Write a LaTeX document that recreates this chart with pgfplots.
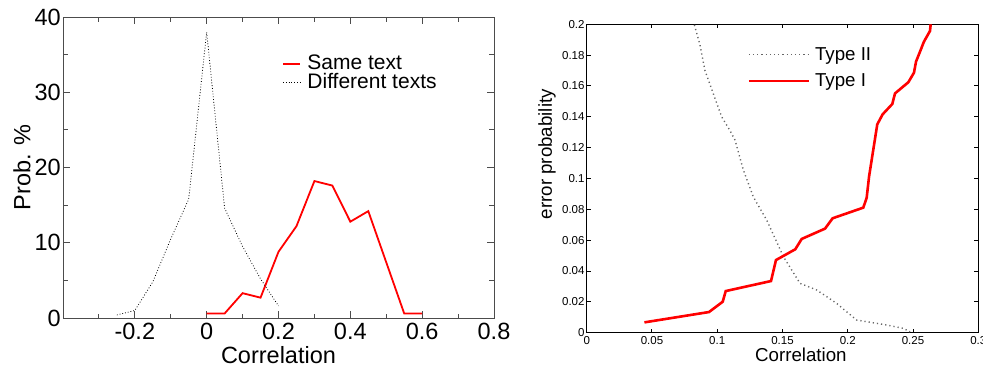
\documentclass[border=0pt]{standalone}
\usepackage{pgfplots}
\pgfplotsset{compat=1.18}
\usepackage{fontspec}
\setmainfont{Liberation Sans}
\begin{document}
\begin{tikzpicture}[x=1pt,y=1pt]
\path[use as bounding box] (0,0) rectangle (983,367);
\begin{axis}[
  at={(63pt,49pt)}, anchor=south west, scale only axis,
  width=431pt, height=301pt,
  xmin=-0.4, xmax=0.8, ymin=0, ymax=40,
  xtick={-0.2,0,0.2,0.4,0.6,0.8},
  minor xtick={-0.3,-0.1,0.1,0.3,0.5,0.7},
  ytick={0,10,20,30,40}, minor ytick={5,15,25,35},
  tick align=inside, major tick length=7pt, minor tick length=4.5pt,
  axis line style={black!70, line width=0.9pt},
  every tick/.style={black!70, line width=0.9pt},
  /pgf/number format/assume math mode=true,
  scaled ticks=false,
  ticklabel style={font=\fontsize{23.5}{24}\selectfont, inner sep=2pt},
  xticklabel style={yshift=-3pt},
  xlabel={Correlation}, ylabel={Prob. \%},
  label style={font=\fontsize{23.5}{24}\selectfont},
  xlabel style={at={(axis description cs:0.5,-0.123)}, anchor=center},
  ylabel style={at={(axis description cs:-0.095,0.5)}, anchor=center},
  legend style={draw=none, fill=none, inner sep=0pt, row sep=0pt, column sep=6pt,
    at={(axis description cs:0.508,0.877)}, anchor=north west,
    font=\fontsize{21}{21}\selectfont,
    nodes={inner sep=0.5pt, text height=15pt, text depth=3pt}},
  legend cell align=left,
  legend image code/.code={\draw[#1] (0pt,0pt) -- (17pt,0pt);},
]
\addplot[red, line width=1.8pt] coordinates {
(0,0.6) (0.05,0.6) (0.1,3.3) (0.15,2.7) (0.2,8.8) (0.25,12.2) (0.3,18.2)
(0.35,17.6) (0.4,12.8) (0.45,14.2) (0.5,7.4) (0.55,0.6) (0.6,0.6)};
\addlegendentry{Same text}
\addplot[black, line width=0.8pt, dotted] coordinates {
(-0.25,0.4) (-0.2,1.0) (-0.15,4.8) (-0.1,10.5) (-0.05,15.8) (0,38.0)
(0.05,14.6) (0.1,9.5) (0.15,5.2) (0.2,1.6)};
\addlegendentry{Different texts}
\end{axis}
\begin{axis}[
  at={(586.7pt,34.3pt)}, anchor=south west, scale only axis,
  width=391.6pt, height=308.4pt,
  xmin=0, xmax=0.3, ymin=0, ymax=0.2,
  xtick={0,0.05,0.1,0.15,0.2,0.25,0.3},
  ytick={0,0.02,0.04,0.06,0.08,0.1,0.12,0.14,0.16,0.18,0.2},
  tick align=inside, major tick length=4pt,
  axis line style={black, line width=1pt},
  every tick/.style={black, line width=1pt},
  /pgf/number format/assume math mode=true,
  /pgf/number format/fixed, /pgf/number format/precision=2,
  scaled ticks=false,
  ticklabel style={font=\fontsize{11.5}{12}\selectfont, inner sep=2pt},
  xticklabel style={yshift=-2pt},
  xlabel={Correlation}, ylabel={error probability},
  label style={font=\fontsize{18.7}{19}\selectfont},
  xlabel style={at={(axis description cs:0.547,-0.072)}, anchor=center},
  ylabel style={at={(axis description cs:-0.101,0.579)}, anchor=center},
  legend style={draw=none, fill=none, inner sep=0pt, row sep=10pt, column sep=4pt,
    at={(axis description cs:0.41,0.929)}, anchor=north west,
    font=\fontsize{18.7}{19}\selectfont, nodes={inner sep=1pt}},
  legend cell align=left,
  legend image code/.code={\draw[#1] (0pt,0pt) -- (60pt,0pt);},
]
\addplot[black!60, line width=1.4pt, dash pattern=on 1.2pt off 3pt] coordinates {
(0.0825,0.1996) (0.0868,0.1866) (0.0906,0.1700) (0.0970,0.1550) (0.1034,0.1400)
(0.1098,0.1310) (0.1136,0.1250) (0.1200,0.1055) (0.1277,0.0880) (0.1379,0.0730)
(0.1507,0.0493) (0.1634,0.0320) (0.1762,0.0277) (0.1915,0.0190) (0.2068,0.0082)
(0.2298,0.0050) (0.2426,0.0028) (0.2477,0.0006)};
\addlegendentry{Type II}
\addplot[red, line width=2.6pt] coordinates {
(0.0442,0.0067) (0.0937,0.0134) (0.1042,0.0201) (0.1065,0.0270) (0.1412,0.0335)
(0.1450,0.0471) (0.1598,0.0541) (0.1647,0.0608) (0.1826,0.0675) (0.1884,0.0742)
(0.2119,0.0811) (0.2145,0.0876) (0.2163,0.1012) (0.2226,0.1351) (0.2267,0.1416)
(0.2341,0.1483) (0.2362,0.1552) (0.2464,0.1624) (0.2507,0.1686) (0.2523,0.1758)
(0.2584,0.1888) (0.2630,0.1957) (0.2635,0.2000)};
\addlegendentry{Type I}
\end{axis}
\end{tikzpicture}
\end{document}
